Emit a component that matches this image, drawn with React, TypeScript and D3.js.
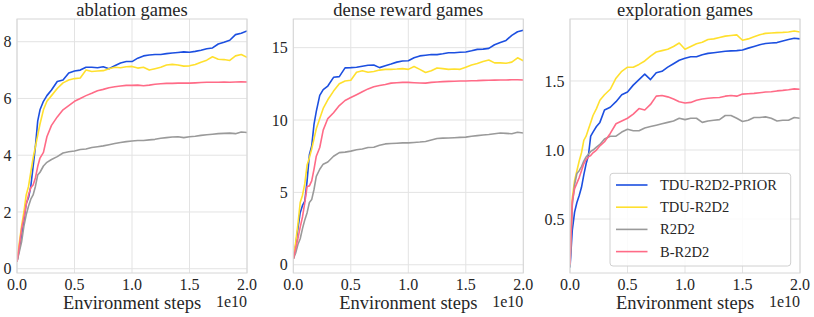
import React, { useEffect, useRef } from "react";
import * as d3 from "d3";

// environment steps (units of 1e10)
const steps = [
  0, 0.02, 0.04, 0.06, 0.08, 0.1, 0.12, 0.14, 0.16, 0.18, 0.2, 0.23, 0.26,
  0.3, 0.35, 0.4, 0.45, 0.5, 0.55, 0.6, 0.65, 0.7, 0.75, 0.8, 0.85, 0.9, 0.95, 1.0,
  1.05, 1.1, 1.15, 1.2, 1.25, 1.3, 1.35, 1.4, 1.45, 1.5, 1.55, 1.6, 1.65, 1.7,
  1.75, 1.8, 1.85, 1.9, 1.95, 2.0,
];

const seriesNames = ["TDU-R2D2-PRIOR", "TDU-R2D2", "R2D2", "B-R2D2"];
const seriesColors = ["#1c4fe0", "#ffe02e", "#9a9a9a", "#ff6b87"];

// ablation games
const ablationPrior = [
  0.25, 0.7, 1.2, 1.7, 2.3, 2.5, 2.9, 3.6, 4.3, 5.2, 5.6, 5.9, 6.1,
  6.3, 6.6, 6.65, 6.9, 6.97, 7.0, 7.1, 7.1, 7.08, 7.12, 7.05, 7.15, 7.25, 7.3, 7.3,
  7.42, 7.5, 7.53, 7.55, 7.55, 7.58, 7.6, 7.62, 7.64, 7.63, 7.66, 7.7, 7.75, 7.78,
  7.92, 7.98, 8.05, 8.25, 8.3, 8.38,
];
const ablationTdu = [
  0.25, 0.9, 1.5, 2.0, 2.6, 2.9, 3.4, 3.9, 4.3, 4.7, 5.1, 5.6, 5.9,
  6.1, 6.35, 6.55, 6.65, 6.7, 6.72, 7.0, 6.95, 6.97, 6.98, 7.05, 7.1, 7.08, 7.12, 7.13,
  7.07, 7.1, 7.0, 7.05, 7.1, 7.18, 7.2, 7.18, 7.14, 7.15, 7.2, 7.28, 7.35, 7.47,
  7.38, 7.37, 7.34, 7.5, 7.55, 7.45,
];
const ablationR2d2 = [
  0.25, 0.6, 0.95, 1.5, 1.9, 2.2, 2.45, 2.6, 2.9, 3.3, 3.4, 3.62, 3.75,
  3.85, 3.95, 4.08, 4.12, 4.15, 4.2, 4.22, 4.27, 4.3, 4.33, 4.37, 4.41, 4.45, 4.48, 4.5,
  4.52, 4.52, 4.54, 4.56, 4.6, 4.62, 4.64, 4.65, 4.62, 4.65, 4.67, 4.7, 4.72, 4.74,
  4.76, 4.77, 4.78, 4.76, 4.82, 4.8,
];
const ablationBoot = [
  0.25, 0.8, 1.4, 1.8, 2.25, 2.6, 2.85, 2.95, 3.2, 3.6, 3.9, 4.1, 4.65,
  5.05, 5.35, 5.6, 5.75, 5.9, 6.0, 6.1, 6.18, 6.27, 6.32, 6.38, 6.41, 6.44, 6.46, 6.46,
  6.47, 6.45, 6.47, 6.5, 6.52, 6.53, 6.53, 6.54, 6.54, 6.54, 6.55, 6.56, 6.57, 6.57,
  6.57, 6.58, 6.57, 6.58, 6.59, 6.58,
];

// dense reward games
const denseprior = [
  0.4, 1.3, 2.5, 3.6, 4.1, 4.4, 5.8, 7.6, 8.2, 9.7, 10.6, 11.7, 12.1,
  12.35, 12.95, 13.0, 13.6, 13.62, 13.65, 13.72, 13.78, 13.8, 13.62, 13.75, 13.87, 14.0, 14.08, 14.1,
  14.3, 14.43, 14.48, 14.53, 14.52, 14.58, 14.65, 14.65, 14.68, 14.7, 14.78, 14.88, 14.9, 14.95,
  15.2, 15.35, 15.5, 15.85, 16.1, 16.2,
];
const denseTdu = [
  0.4, 1.5, 2.8, 4.3, 4.8, 5.6, 6.9, 7.4, 8.0, 8.7, 9.4, 10.1, 10.8,
  11.4, 12.0, 12.5, 12.7, 12.75, 13.3, 13.4, 13.3, 13.35, 13.45, 13.5, 13.5, 13.52, 13.55, 13.5,
  13.7, 13.5, 13.28, 13.4, 13.6, 13.55, 13.5, 13.52, 13.5, 13.65, 13.8, 13.9, 14.05, 14.15,
  13.95, 13.95, 13.92, 14.0, 14.3, 14.1,
];
const denseR2d2 = [
  0.4, 0.8, 1.4, 1.8, 2.5, 3.1, 3.6, 4.3, 4.5, 5.2, 6.1, 6.6, 6.95,
  7.1, 7.5, 7.75, 7.78, 7.85, 7.95, 8.0, 8.1, 8.12, 8.25, 8.35, 8.38, 8.4, 8.42, 8.42,
  8.45, 8.48, 8.52, 8.62, 8.72, 8.75, 8.76, 8.78, 8.8, 8.82, 8.88, 8.92, 8.96, 9.0,
  9.05, 9.1, 9.08, 9.05, 9.15, 9.1,
];
const denseBoot = [
  0.4, 1.1, 1.8, 2.6, 3.3, 4.3, 5.4, 5.45, 5.8, 6.6, 7.5, 8.1, 9.3,
  10.1, 10.5, 11.0, 11.35, 11.55, 11.75, 11.95, 12.15, 12.3, 12.38, 12.45, 12.55, 12.58, 12.6, 12.6,
  12.58, 12.56, 12.55, 12.6, 12.63, 12.65, 12.67, 12.68, 12.7, 12.7, 12.71, 12.72, 12.74, 12.75,
  12.76, 12.77, 12.77, 12.78, 12.78, 12.77,
];

// exploration games
const explorePrior = [
  0.15, 0.42, 0.55, 0.62, 0.67, 0.73, 0.82, 0.9, 0.96, 1.1, 1.13, 1.17, 1.2,
  1.29, 1.31, 1.35, 1.4, 1.42, 1.47, 1.51, 1.55, 1.51, 1.56, 1.57, 1.6, 1.625, 1.65, 1.665,
  1.675, 1.675, 1.69, 1.7, 1.705, 1.71, 1.715, 1.718, 1.72, 1.725, 1.738, 1.75, 1.762, 1.772,
  1.775, 1.778, 1.79, 1.8, 1.81, 1.805,
];
const exploreTdu = [
  0.2, 0.65, 0.78, 0.85, 0.92, 0.98, 1.07, 1.1, 1.15, 1.2, 1.25, 1.3, 1.36,
  1.4, 1.44, 1.52, 1.57, 1.6, 1.6, 1.62, 1.645, 1.68, 1.71, 1.72, 1.73, 1.75, 1.775, 1.73,
  1.75, 1.77, 1.78, 1.8, 1.805, 1.815, 1.825, 1.83, 1.834, 1.795, 1.805, 1.82, 1.835, 1.845,
  1.848, 1.85, 1.852, 1.855, 1.862, 1.855,
];
const exploreR2d2 = [
  0.15, 0.6, 0.75, 0.83, 0.85, 0.88, 0.92, 0.95, 0.97, 0.99, 1.0, 1.02, 1.04,
  1.08, 1.1, 1.1, 1.13, 1.15, 1.14, 1.14, 1.16, 1.17, 1.18, 1.19, 1.2, 1.21, 1.23, 1.22,
  1.23, 1.23, 1.2, 1.21, 1.215, 1.22, 1.25, 1.25, 1.23, 1.207, 1.215, 1.235, 1.235, 1.24,
  1.23, 1.21, 1.215, 1.215, 1.235, 1.23,
];
const exploreBoot = [
  0.17, 0.63, 0.72, 0.76, 0.8, 0.85, 0.9, 0.93, 0.95, 0.96, 0.98, 1.0, 1.03,
  1.06, 1.12, 1.19, 1.21, 1.23, 1.26, 1.3, 1.29, 1.33, 1.39, 1.395, 1.385, 1.37, 1.35, 1.34,
  1.345, 1.36, 1.37, 1.375, 1.378, 1.38, 1.39, 1.395, 1.39, 1.405, 1.408, 1.41, 1.415, 1.42,
  1.422, 1.428, 1.432, 1.437, 1.443, 1.44,
];

const xTicks = [0, 0.5, 1.0, 1.5, 2.0];

const panels = [
  { title: "ablation games", series: [ablationPrior, ablationTdu, ablationR2d2, ablationBoot], yDomain: [-0.15, 8.8], yTicks: [0, 2, 4, 6, 8], fmt: "d" },
  { title: "dense reward games", series: [denseprior, denseTdu, denseR2d2, denseBoot], yDomain: [-0.57, 16.98], yTicks: [0, 5, 10, 15], fmt: "d" },
  { title: "exploration games", series: [explorePrior, exploreTdu, exploreR2d2, exploreBoot], yDomain: [0.109, 1.949], yTicks: [0.5, 1.0, 1.5], fmt: ".1f", legend: true },
];

const W = 814;
const H = 317;
const FONT = "'Liberation Serif', 'DejaVu Serif', serif";
const TEXT = "#262626";

export default function App() {
  const svgRef = useRef<SVGSVGElement>(null);

  useEffect(() => {
    const svg = d3.select(svgRef.current);
    svg.selectAll("*").remove();

    const lefts = [17, 293.3, 570];
    const pw = 230;
    const top = 19;
    const bottom = 273;

    panels.forEach((p, pi) => {
      const x0 = lefts[pi];
      const x = d3.scaleLinear().domain([0, 2]).range([x0, x0 + pw]);
      const y = d3.scaleLinear().domain(p.yDomain).range([bottom, top]);
      const g = svg.append("g");

      g.append("rect")
        .attr("x", x0).attr("y", top)
        .attr("width", pw).attr("height", bottom - top)
        .attr("fill", "#fff");

      // grid
      g.selectAll(".gx").data(xTicks).join("line")
        .attr("x1", (d) => x(d)).attr("x2", (d) => x(d))
        .attr("y1", top).attr("y2", bottom)
        .attr("stroke", "#e3e3e3").attr("stroke-width", 1);
      g.selectAll(".gy").data(p.yTicks).join("line")
        .attr("x1", x0).attr("x2", x0 + pw)
        .attr("y1", (d) => y(d)).attr("y2", (d) => y(d))
        .attr("stroke", "#e3e3e3").attr("stroke-width", 1);

      const clipId = `clip-${pi}`;
      svg.append("clipPath").attr("id", clipId)
        .append("rect").attr("x", x0).attr("y", top).attr("width", pw).attr("height", bottom - top);

      const line = d3.line<number>()
        .x((_, i) => x(steps[i]))
        .y((d) => y(d));

      p.series.forEach((vals, si) => {
        g.append("path")
          .datum(vals)
          .attr("clip-path", `url(#${clipId})`)
          .attr("fill", "none")
          .attr("stroke", seriesColors[si])
          .attr("stroke-width", 1.6)
          .attr("stroke-linejoin", "round")
          .attr("d", line);
      });

      // frame
      g.append("rect")
        .attr("x", x0).attr("y", top)
        .attr("width", pw).attr("height", bottom - top)
        .attr("fill", "none").attr("stroke", "#d6d6d6").attr("stroke-width", 1);

      // tick labels
      g.selectAll(".xt").data(xTicks).join("text")
        .attr("x", (d) => x(d)).attr("y", 290)
        .attr("text-anchor", "middle")
        .attr("font-family", FONT).attr("font-size", 16).attr("fill", TEXT)
        .text((d) => d3.format(".1f")(d));
      g.selectAll(".yt").data(p.yTicks).join("text")
        .attr("x", x0 - 5.5).attr("y", (d) => y(d))
        .attr("dy", "0.35em")
        .attr("text-anchor", "end")
        .attr("font-family", FONT).attr("font-size", 16).attr("fill", TEXT)
        .text((d) => d3.format(p.fmt)(d));

      g.append("text")
        .attr("x", x0 + pw / 2).attr("y", 15.5)
        .attr("text-anchor", "middle")
        .attr("font-family", FONT).attr("font-size", 18.5).attr("fill", TEXT)
        .text(p.title);
      g.append("text")
        .attr("x", x0 + pw / 2).attr("y", 309)
        .attr("text-anchor", "middle")
        .attr("font-family", FONT).attr("font-size", 18.5).attr("fill", TEXT)
        .text("Environment steps");
      g.append("text")
        .attr("x", x0 + pw).attr("y", 307)
        .attr("text-anchor", "end")
        .attr("font-family", FONT).attr("font-size", 16).attr("fill", TEXT)
        .text("1e10");

      if (p.legend) {
        const lg = g.append("g");
        lg.append("rect")
          .attr("x", 610).attr("y", 173.3)
          .attr("width", 180.7).attr("height", 92.7)
          .attr("rx", 3)
          .attr("fill", "rgba(255,255,255,0.85)")
          .attr("stroke", "#d0d0d0");
        seriesNames.forEach((name, i) => {
          const ly = 185 + i * 22.2;
          lg.append("line")
            .attr("x1", 616).attr("x2", 647.5)
            .attr("y1", ly).attr("y2", ly)
            .attr("stroke", seriesColors[i]).attr("stroke-width", 1.6);
          lg.append("text")
            .attr("x", 660).attr("y", ly).attr("dy", "0.35em")
            .attr("font-family", FONT).attr("font-size", 14.5).attr("fill", TEXT)
            .text(name);
        });
      }
    });
  }, []);

  return (
    <svg
      ref={svgRef}
      width={W}
      height={H}
      style={{ position: "absolute", left: 0, top: 0, background: "#fff" }}
    />
  );
}
